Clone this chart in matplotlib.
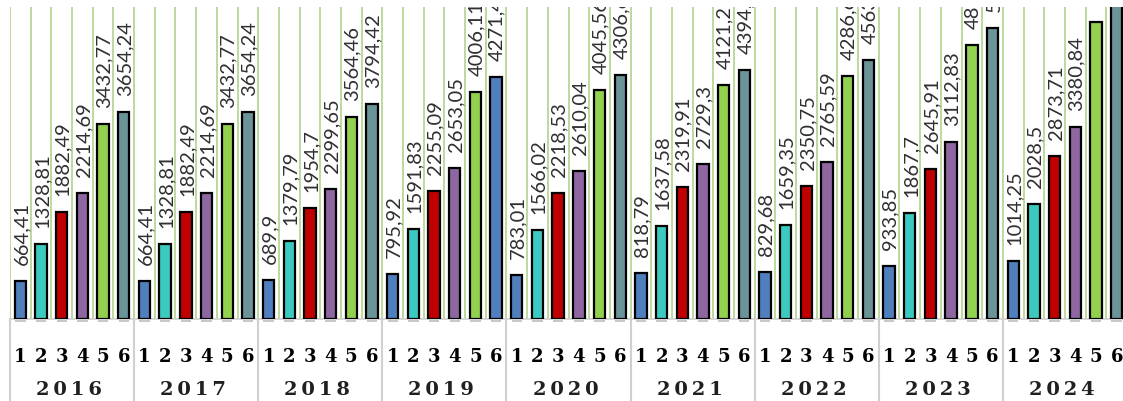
import matplotlib
matplotlib.use("Agg")
import matplotlib.pyplot as plt
import matplotlib.transforms as mtransforms
import numpy as np

years = ["2016", "2017", "2018", "2019", "2020", "2021", "2022", "2023", "2024"]
groups = ["1", "2", "3", "4", "5", "6"]

# one list per bar position in the year group
s1 = [664.41, 664.41, 689.9, 795.92, 783.01, 818.79, 829.68, 933.85, 1014.25]
s2 = [1328.81, 1328.81, 1379.79, 1591.83, 1566.02, 1637.58, 1659.35, 1867.7, 2028.5]
s3 = [1882.49, 1882.49, 1954.7, 2255.09, 2218.53, 2319.91, 2350.75, 2645.91, 2873.71]
s4 = [2214.69, 2214.69, 2299.65, 2653.05, 2610.04, 2729.3, 2765.59, 3112.83, 3380.84]
s5 = [3432.77, 3432.77, 3564.46, 4006.11, 4045.56, 4121.25, 4286.6, 4824.8, 5240.2]
s6 = [3654.24, 3654.24, 3794.42, 4271.4, 4306.6, 4394.1, 4563.3, 5136.2, 5578.4]

colors = ["#4F7FBD", "#3CC9C0", "#C00000", "#8E67A0", "#92D050", "#6A9497"]
# the 2019 sixth bar is drawn blue in the original
special = {("2019", 5): "#4F7FBD"}

series = [s1, s2, s3, s4, s5, s6]
n = len(groups)


def fmt(v):
    return f"{v:.2f}".rstrip("0").rstrip(".").replace(".", ",")


fig = plt.figure(figsize=(11.23, 4.02), dpi=100)
W, H = 1123, 402
ax = fig.add_axes([10 / W, 1 - 320 / H, (1127 - 10) / W, (320 - 8) / H])

pos = np.arange(len(years) * n)
vals, cols, ticklabels = [], [], []
for i, y in enumerate(years):
    for j in range(n):
        vals.append(series[j][i])
        cols.append(special.get((y, j), colors[j]))
        ticklabels.append(groups[j])

ax.bar(pos, vals, width=0.55, color=cols, edgecolor="black", linewidth=1.6, zorder=3)
# faint shadow dashes just under the axis
ax.bar(pos, -28, bottom=-26, width=0.5, color="#C8C8C8", linewidth=0, clip_on=False)

ax.set_xlim(-0.5, len(pos) - 0.5)
ax.set_ylim(0, 5500)

# green gridlines on category boundaries
ax.set_xticks(np.arange(-0.5, len(pos)), minor=True)
ax.grid(True, which="minor", axis="x", color="#B2D38A", linewidth=1.2, zorder=0)
ax.tick_params(which="minor", length=0)

ax.set_xticks(pos)
ax.set_xticklabels(ticklabels, fontsize=13, fontweight="bold", family="DejaVu Serif")
ax.tick_params(axis="x", length=0, pad=20)
ax.set_yticks([])

for s in ["top", "left", "right"]:
    ax.spines[s].set_visible(False)
ax.spines["bottom"].set_color("#D0D0D0")
ax.spines["bottom"].set_linewidth(1.2)

off = mtransforms.offset_copy(ax.transData, fig=fig, x=1, y=17, units="dots")
for x, v in zip(pos, vals):
    ax.text(x, v, fmt(v), transform=off, rotation=90, ha="center", va="bottom",
            fontsize=14.5, family="Lato", color="#303030", clip_on=True)

tr = mtransforms.blended_transform_factory(ax.transData, ax.transAxes)
for i, y in enumerate(years):
    ax.text(i * n + (n - 1) / 2 - 0.15, -70 / 312, "\u2009".join(y), transform=tr,
            ha="center", va="center", fontsize=14, fontweight="bold",
            family="DejaVu Serif", color="#202020")
    ax.plot([i * n - 0.5, i * n - 0.5], [0, -82 / 312], transform=tr,
            color="#D0D0D0", linewidth=1.5, clip_on=False)
ax.plot([len(pos) - 0.5] * 2, [0, -82 / 312], transform=tr,
        color="#D0D0D0", linewidth=1.5, clip_on=False)

fig.savefig("out.png", dpi=100)
